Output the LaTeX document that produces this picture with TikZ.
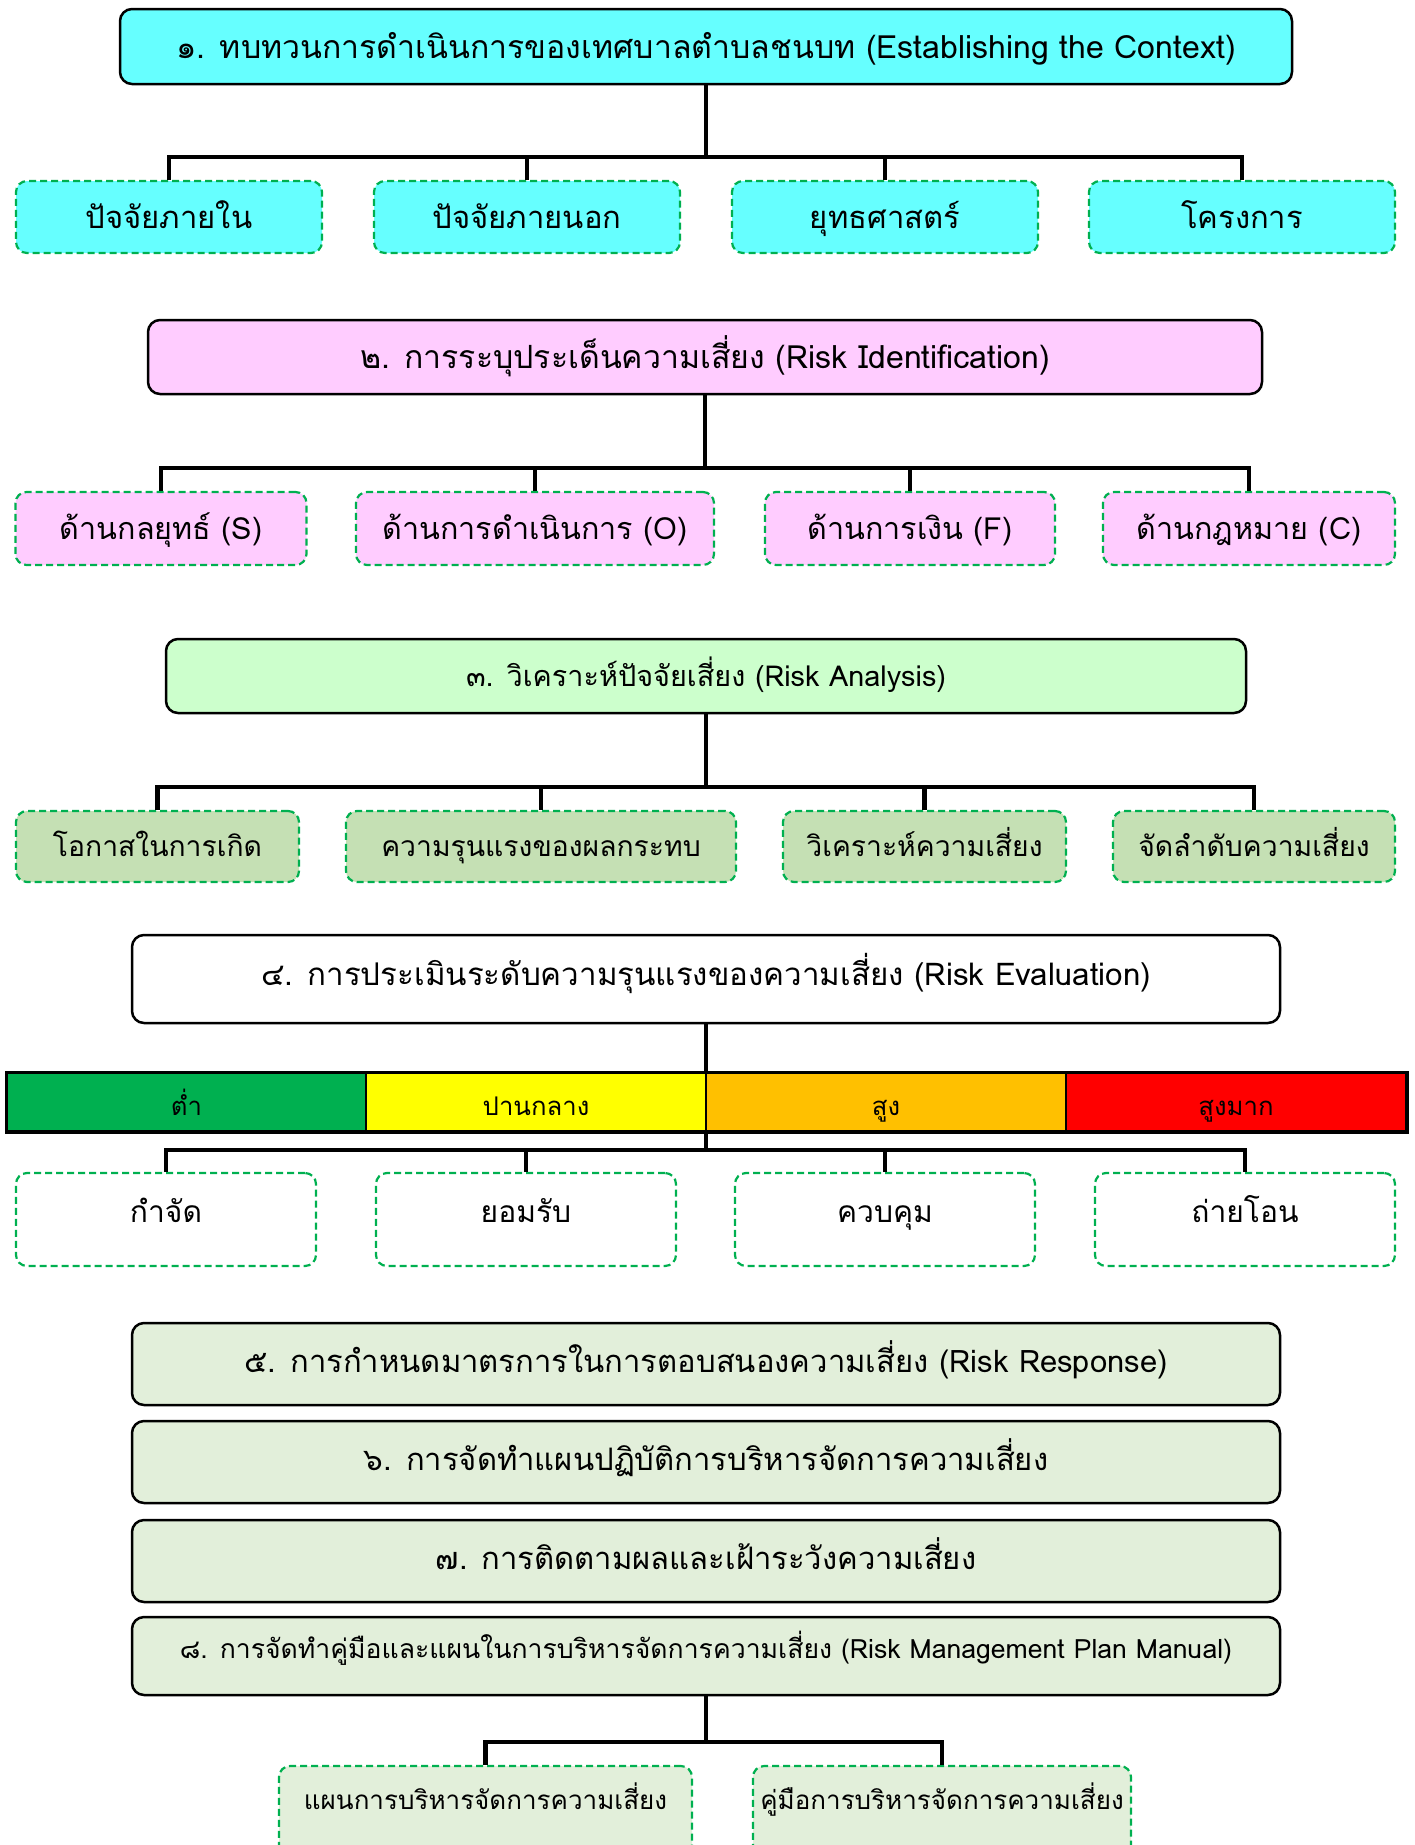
\documentclass[tikz,border=0pt]{standalone}
\usepackage{fontspec}
\newfontfamily\thai[Script=Thai]{Loma}
\definecolor{cyanbox}{HTML}{66FFFF}
\definecolor{pinkbox}{HTML}{FFCCFF}
\definecolor{greenbox}{HTML}{CCFFCC}
\definecolor{olivebox}{HTML}{C5E0B4}
\definecolor{palebox}{HTML}{E2EFDA}
\definecolor{dashgreen}{HTML}{00B050}
\definecolor{barGreen}{HTML}{00B050}
\definecolor{barYellow}{HTML}{FFFF00}
\definecolor{barOrange}{HTML}{FFC000}
\definecolor{barRed}{HTML}{FF0000}
\newcommand\rz[2]{\raisebox{#1pt}{#2}}
\tikzset{
  fs/.style={font={\thai\fontsize{#1pt}{#1pt}\selectfont},
    text height=\dimexpr #1pt*80/100\relax, text depth=\dimexpr #1pt*8/100\relax},
  mainbox/.style={draw=black, line width=2.5pt, rounded corners=12pt, inner sep=0pt},
  subbox/.style={draw=dashgreen, line width=2.2pt, dash pattern=on 7pt off 4pt, rounded corners=11pt, inner sep=0pt},
  barseg/.style={draw=black, line width=1.5pt, inner sep=0pt, minimum height=58pt},
  conn/.style={line width=4.5pt, black},
}
\begin{document}
\begin{tikzpicture}[x=1pt,y=-1pt]
\useasboundingbox (0,0) rectangle (1414,1845);
\clip (0,0) rectangle (1414,1845);
\fill[white] (0,0) rectangle (1414,1845);
% ---- 1
\node[mainbox, fill=cyanbox, fs=32, minimum width=1172pt, minimum height=75pt] (b1) at (706,46.5) {๑. ทบทวนการดำเนินการของเทศบาลตำบลชนบท (Establishing the Context)};
\node[subbox, fill=cyanbox, fs=31, minimum width=306pt, minimum height=72pt] (c11) at (169,217) {ปัจจัยภายใน};
\node[subbox, fill=cyanbox, fs=31, minimum width=306pt, minimum height=72pt] (c12) at (527,217) {ปัจจัยภายนอก};
\node[subbox, fill=cyanbox, fs=31, minimum width=306pt, minimum height=72pt] (c13) at (885,217) {ยุทธศาสตร์};
\node[subbox, fill=cyanbox, fs=31, minimum width=306pt, minimum height=72pt] (c14) at (1242,217) {โครงการ};
\coordinate (j1) at (706,157);
\foreach \c in {c11,c12,c13,c14} \draw[conn] (b1.south) -- (j1) -| (\c.north);
% ---- 2
\node[mainbox, fill=pinkbox, fs=32, minimum width=1114pt, minimum height=74pt] (b2) at (705,357) {๒. การระบุประเด็นความเสี่ยง (Risk Identification)};
\node[subbox, fill=pinkbox, fs=30.5, minimum width=291pt, minimum height=73pt] (c21) at (161,528.5) {ด้านกลยุทธ์ (S)};
\node[subbox, fill=pinkbox, fs=30.5, minimum width=358pt, minimum height=73pt] (c22) at (535,528.5) {ด้านการดำเนินการ (O)};
\node[subbox, fill=pinkbox, fs=30.5, minimum width=290pt, minimum height=73pt] (c23) at (910,528.5) {ด้านการเงิน (F)};
\node[subbox, fill=pinkbox, fs=30.5, minimum width=292pt, minimum height=73pt] (c24) at (1249,528.5) {ด้านกฎหมาย (C)};
\coordinate (j2) at (705,468);
\foreach \c in {c21,c22,c23,c24} \draw[conn] (b2.south) -- (j2) -| (\c.north);
% ---- 3
\node[mainbox, fill=greenbox, fs=28.8, minimum width=1080pt, minimum height=74pt] (b3) at (706,676) {๓. วิเคราะห์ปัจจัยเสี่ยง (Risk Analysis)};
\node[subbox, fill=olivebox, fs=28.3, minimum width=283pt, minimum height=71pt] (c31) at (157.5,846.5) {โอกาสในการเกิด};
\node[subbox, fill=olivebox, fs=28.3, minimum width=390pt, minimum height=71pt] (c32) at (541,846.5) {ความรุนแรงของผลกระทบ};
\node[subbox, fill=olivebox, fs=28.3, minimum width=283pt, minimum height=71pt] (c33) at (924.5,846.5) {วิเคราะห์ความเสี่ยง};
\node[subbox, fill=olivebox, fs=28.3, minimum width=282pt, minimum height=71pt] (c34) at (1254,846.5) {จัดลำดับความเสี่ยง};
\coordinate (j3) at (706,787);
\foreach \c in {c31,c32,c33,c34} \draw[conn] (b3.south) -- (j3) -| (\c.north);
% ---- 4
\node[mainbox, fill=white, fs=31.3, minimum width=1148pt, minimum height=88pt] (b4) at (706,979) {\rz{5}{๔. การประเมินระดับความรุนแรงของความเสี่ยง (Risk Evaluation)}};
\node[barseg, fill=barGreen, fs=25.7, minimum width=359pt] (r1) at (186.5,1102) {\rz{-4}{ต่ำ}};
\node[barseg, fill=barYellow, fs=25.7, minimum width=340pt] (r2) at (536,1102) {\rz{-4}{ปานกลาง}};
\node[barseg, fill=barOrange, fs=25.7, minimum width=360pt] (r3) at (886,1102) {\rz{-4}{สูง}};
\node[barseg, fill=barRed, fs=25.7, minimum width=340pt] (r4) at (1236,1102) {\rz{-4}{สูงมาก}};
\draw[line width=3.5pt] (r1.north west) rectangle (r4.south east);
\draw[conn] (b4.south) -- (b4.south |- r2.north);
\node[subbox, fill=white, fs=30, minimum width=300pt, minimum height=93pt] (c41) at (166,1219.5) {\rz{7.5}{กำจัด}};
\node[subbox, fill=white, fs=30, minimum width=300pt, minimum height=93pt] (c42) at (526,1219.5) {\rz{7.5}{ยอมรับ}};
\node[subbox, fill=white, fs=30, minimum width=300pt, minimum height=93pt] (c43) at (885,1219.5) {\rz{7.5}{ควบคุม}};
\node[subbox, fill=white, fs=30, minimum width=300pt, minimum height=93pt] (c44) at (1245,1219.5) {\rz{7.5}{ถ่ายโอน}};
\coordinate (j4) at (706,1150);
\foreach \c in {c41,c42,c43,c44} \draw[conn] (j4 |- r3.south) -- (j4) -| (\c.north);
% ---- 5-8
\node[mainbox, fill=palebox, fs=31, minimum width=1148pt, minimum height=82pt] (b5) at (706,1364) {\rz{3}{๕. การกำหนดมาตรการในการตอบสนองความเสี่ยง (Risk Response)}};
\node[mainbox, fill=palebox, fs=31, minimum width=1148pt, minimum height=82pt] (b6) at (706,1462) {\rz{3}{๖. การจัดทำแผนปฏิบัติการบริหารจัดการความเสี่ยง}};
\node[mainbox, fill=palebox, fs=31, minimum width=1148pt, minimum height=82pt] (b7) at (706,1561) {\rz{3}{๗. การติดตามผลและเฝ้าระวังความเสี่ยง}};
\node[mainbox, fill=palebox, fs=26.6, minimum width=1148pt, minimum height=78pt] (b8) at (706,1656) {\rz{7}{๘. การจัดทำคู่มือและแผนในการบริหารจัดการความเสี่ยง (Risk Management Plan Manual)}};
\node[subbox, fill=palebox, fs=26, minimum width=413pt, minimum height=110pt] (c81) at (485.5,1821) {\rz{21}{แผนการบริหารจัดการความเสี่ยง}};
\node[subbox, fill=palebox, fs=26, minimum width=378pt, minimum height=110pt] (c82) at (942,1821) {\rz{21}{คู่มือการบริหารจัดการความเสี่ยง}};
\coordinate (j8) at (706,1742);
\foreach \c in {c81,c82} \draw[conn] (b8.south) -- (j8) -| (\c.north);
\end{tikzpicture}
\end{document}
